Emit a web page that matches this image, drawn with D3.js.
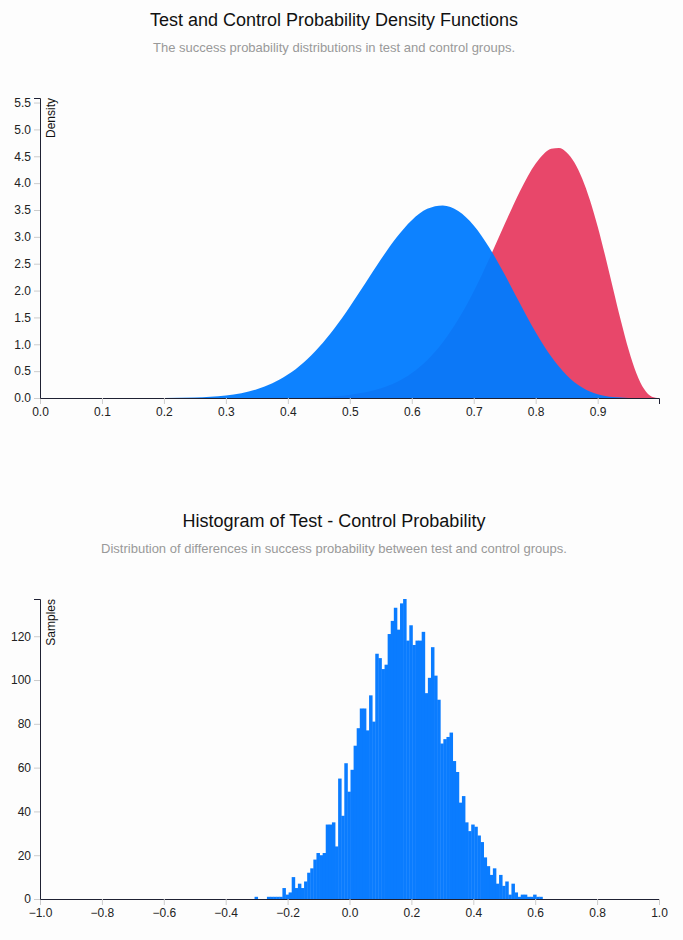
<!DOCTYPE html>
<html>
<head>
<meta charset="utf-8">
<script src="https://cdn.jsdelivr.net/npm/d3@7"></script>
<style>
  body { margin: 0; background: #fdfdfd; font-family: "Liberation Sans", Arial, sans-serif; }
  .title { font-size: 18px; fill: #111; text-anchor: middle; }
  .subtitle { font-size: 13px; fill: #999; text-anchor: middle; }
  .axis .domain { stroke: #1f2133; }
  .axis .tick line { stroke: #ccc; }
  .axis .tick text { font-size: 12px; fill: #222; font-family: "Liberation Sans", Arial, sans-serif; }
  .ylabel { font-size: 12px; fill: #111; }
</style>
</head>
<body>
<div id="chart"></div>
<script>
// test group density
const testX = [0, 0.3, 0.35, 0.4, 0.45, 0.5, 0.55, 0.6, 0.625, 0.65, 0.675, 0.7, 0.725, 0.75, 0.775, 0.8,
  0.8125, 0.825, 0.8375, 0.85, 0.8625, 0.875, 0.8875, 0.9, 0.9125, 0.925, 0.9375, 0.95, 0.9625, 0.975, 0.9875, 0.999];
const testDensity = [0, 0.0001, 0.0006, 0.0036, 0.0162, 0.0592, 0.180, 0.4665, 0.709, 1.038, 1.465, 1.988, 2.592, 3.237, 3.860, 4.365,
  4.538, 4.639, 4.654, 4.571, 4.383, 4.086, 3.685, 3.192, 2.630, 2.031, 1.438, 0.898, 0.461, 0.166, 0.025, 0];

// control group density (blue curve)
const controlX = [0, 0.15, 0.2, 0.25, 0.275, 0.3, 0.325, 0.35, 0.375, 0.4, 0.425, 0.45, 0.475, 0.5, 0.525, 0.55, 0.575,
  0.6, 0.625, 0.65, 0.675, 0.7, 0.725, 0.75, 0.775, 0.8, 0.825, 0.85, 0.875, 0.9, 0.925, 0.95, 0.999];
const controlDensity = [0, 0.0001, 0.0012, 0.0095, 0.022, 0.046, 0.090, 0.162, 0.274, 0.436, 0.658, 0.945, 1.295, 1.700, 2.137, 2.577, 2.982,
  3.310, 3.521, 3.584, 3.479, 3.211, 2.803, 2.297, 1.751, 1.225, 0.771, 0.425, 0.196, 0.070, 0.017, 0.002, 0];

// histogram of test - control, bins of 0.01
const binStart = [-0.31, -0.30, -0.29, -0.28, -0.27, -0.26, -0.25, -0.24, -0.23, -0.22, -0.21, -0.20,
  -0.19, -0.18, -0.17, -0.16, -0.15, -0.14, -0.13, -0.12, -0.11, -0.10,
  -0.09, -0.08, -0.07, -0.06, -0.05, -0.04, -0.03, -0.02, -0.01,
  0.00, 0.01, 0.02, 0.03, 0.04, 0.05, 0.06, 0.07, 0.08, 0.09,
  0.10, 0.11, 0.12, 0.13, 0.14, 0.15, 0.16, 0.17, 0.18, 0.19,
  0.20, 0.21, 0.22, 0.23, 0.24, 0.25, 0.26, 0.27, 0.28, 0.29,
  0.30, 0.31, 0.32, 0.33, 0.34, 0.35, 0.36, 0.37, 0.38, 0.39,
  0.40, 0.41, 0.42, 0.43, 0.44, 0.45, 0.46, 0.47, 0.48, 0.49,
  0.50, 0.51, 0.52, 0.53, 0.54, 0.55, 0.56, 0.57, 0.58, 0.59,
  0.60, 0.61];
const binCount = [1, 0, 0, 0, 1, 1, 1, 1, 1, 5, 2, 3,
  10, 5, 7, 5, 8, 12, 14, 18, 21, 20,
  21, 34, 34, 35, 24, 55, 38, 62, 49,
  59, 70, 78, 87, 87, 77, 93, 81, 112, 110,
  105, 107, 121, 127, 133, 123, 135, 137, 118, 125,
  116, 118, 118, 122, 94, 101, 115, 102, 91, 71,
  73, 74, 76, 63, 58, 44, 47, 35, 31, 34,
  33, 29, 26, 19, 15, 11, 14, 7, 11, 6,
  8, 2, 7, 3, 1, 2, 2, 1, 1, 2,
  1, 1];
const binWidth = 0.01;

const W = 683, H = 940;
const titleX = 334;
const margin = {left: 40, right: 24};
const plotW = W - margin.left - margin.right;
const plotH = 300;

const svg = d3.select('#chart').append('svg')
  .attr('width', W)
  .attr('height', H);

// ---------- density chart ----------
svg.append('text').attr('class', 'title').attr('x', titleX).attr('y', 26)
  .text('Test and Control Probability Density Functions');
svg.append('text').attr('class', 'subtitle').attr('x', titleX).attr('y', 52)
  .text('The success probability distributions in test and control groups.');

const g1 = svg.append('g').attr('transform', 'translate(' + margin.left + ',98)');

const x1 = d3.scaleLinear().domain([0, 0.999]).range([0, plotW]);
const y1 = d3.scaleLinear().domain([0, d3.max(testDensity) * 1.2]).range([plotH, 0]);

const area1 = d3.area()
  .curve(d3.curveMonotoneX)
  .x(d => x1(d[0]))
  .y0(plotH)
  .y1(d => y1(d[1]));

g1.append('path')
  .datum(d3.zip(testX, testDensity))
  .attr('d', area1)
  .style('fill', '#e8476a');

g1.append('path')
  .datum(d3.zip(controlX, controlDensity))
  .attr('d', area1)
  .style('fill', '#007bff')
  .style('opacity', 0.95);

g1.append('g').attr('class', 'axis')
  .attr('transform', 'translate(0,' + plotH + ')')
  .call(d3.axisBottom(x1).ticks(10).tickFormat(d3.format('.1f')));

g1.append('g').attr('class', 'axis')
  .call(d3.axisLeft(y1).ticks(12).tickFormat(d3.format('.1f')));

g1.append('text').attr('class', 'ylabel')
  .attr('transform', 'rotate(-90)')
  .attr('y', 6).attr('dy', '.71em')
  .style('text-anchor', 'end')
  .text('Density');

// ---------- histogram ----------
svg.append('text').attr('class', 'title').attr('x', titleX).attr('y', 527)
  .text('Histogram of Test - Control Probability');
svg.append('text').attr('class', 'subtitle').attr('x', titleX).attr('y', 553)
  .text('Distribution of differences in success probability between test and control groups.');

const g2 = svg.append('g').attr('transform', 'translate(' + margin.left + ',599)');

const x2 = d3.scaleLinear().domain([-1, 1]).range([0, plotW]);
const y2 = d3.scaleLinear().domain([0, d3.max(binCount)]).range([plotH, 0]);

const bins = d3.zip(binStart, binCount);

// bars overlap slightly so no white seams show between neighbours
g2.append('g')
  .selectAll('rect')
  .data(bins)
  .enter().append('rect')
    .attr('x', d => x2(d[0]) + 1)
    .attr('y', d => y2(d[1]))
    .attr('width', x2(binWidth) - x2(0) + 0.4)
    .attr('height', d => plotH - y2(d[1]))
    .style('fill', '#0a7cff');

g2.append('g').attr('class', 'axis')
  .attr('transform', 'translate(0,' + plotH + ')')
  .call(d3.axisBottom(x2).ticks(10).tickFormat(d3.format('.1f')));

g2.append('g').attr('class', 'axis')
  .call(d3.axisLeft(y2).ticks(7));

g2.append('text').attr('class', 'ylabel')
  .attr('transform', 'rotate(-90)')
  .attr('y', 6).attr('dy', '.71em')
  .style('text-anchor', 'end')
  .text('Samples');
</script>
</body>
</html>
